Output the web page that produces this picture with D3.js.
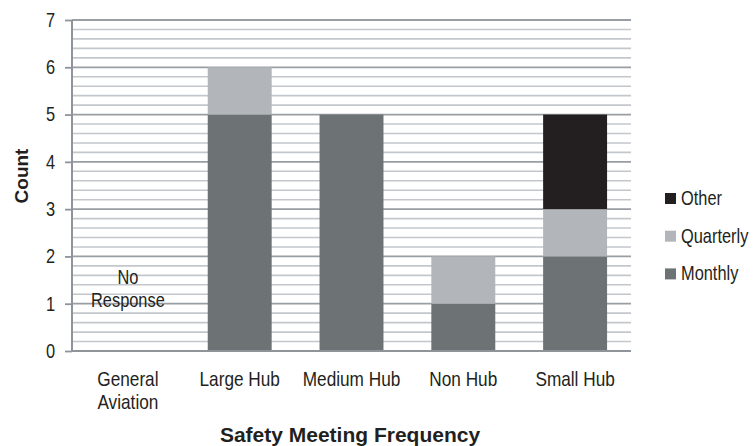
<!DOCTYPE html>
<html><head><meta charset="utf-8">
<script src="https://cdn.jsdelivr.net/npm/d3@7"></script>
<style>
body{margin:0;background:#fff;}
svg{display:block;}
text{font-family:"Liberation Sans",Arial,sans-serif;fill:#231f20;}
.bold{font-weight:bold;}
</style></head><body>
<script>
const categories = ["General Aviation","Large Hub","Medium Hub","Non Hub","Small Hub"];
const monthly   = [0,5,5,1,2];
const quarterly = [0,1,0,1,1];
const other     = [0,0,0,0,2];
const seriesNames = ["Monthly","Quarterly","Other"];
const seriesColors = ["#6d7375","#b2b5b9","#231f20"];
const yTicks = [0,1,2,3,4,5,6,7];
const xTitle = "Safety Meeting Frequency";
const yTitle = "Count";
const noResponse = ["No","Response"];

const SX=0.82; // condensed face
const W=754,H=446;
const svg=d3.select("body").append("svg").attr("width",W).attr("height",H);
const x=d3.scaleBand().domain(categories).range([72,631]).paddingInner(0.428).paddingOuter(0.214);
const y=d3.scaleLinear().domain([0,7]).range([351,20]);

function ctext(parent,px,py,str,size,anchor){
  return parent.append("text").attr("transform",`translate(${px},${py}) scale(${SX},1)`)
    .attr("font-size",size).attr("text-anchor",anchor||"start").text(str);
}

// minor gridlines
const minor=d3.range(0,7.0001,0.2).map(v=>+v.toFixed(1)).filter(v=>Math.abs(v-Math.round(v))>1e-6);
svg.append("g").selectAll("line").data(minor).join("line")
  .attr("x1",72).attr("x2",631).attr("y1",d=>y(d)).attr("y2",d=>y(d))
  .attr("stroke","#c3c7cc").attr("stroke-width",1.6);
svg.append("g").selectAll("line").data(yTicks.filter(v=>v>0)).join("line")
  .attr("x1",72).attr("x2",631).attr("y1",d=>y(d)).attr("y2",d=>y(d))
  .attr("stroke","#999ea4").attr("stroke-width",1.8);

// stacked bars
const table=categories.map((c,i)=>({cat:c,Monthly:monthly[i],Quarterly:quarterly[i],Other:other[i]}));
const stack=d3.stack().keys(seriesNames)(table);
svg.append("g").selectAll("g").data(stack).join("g").attr("fill",(d,i)=>seriesColors[i])
  .selectAll("rect").data(d=>d).join("rect")
  .attr("x",d=>x(d.data.cat)).attr("width",x.bandwidth())
  .attr("y",d=>y(d[1])).attr("height",d=>y(d[0])-y(d[1]));

// axes
const yAxis=d3.axisLeft(y).tickValues(yTicks).tickSize(7).tickPadding(11).tickFormat(d3.format("d"));
const gy=svg.append("g").attr("transform","translate(72,0)").call(yAxis);
gy.select(".domain").attr("stroke","#8f949a").attr("stroke-width",2).attr("d","M0,20V351");
gy.selectAll(".tick line").attr("stroke","#8f949a").attr("stroke-width",1.8);
gy.selectAll(".tick text").attr("font-size",20).attr("font-family",null).attr("fill","#231f20")
  .attr("transform",`translate(-17,0) scale(${SX},1)`).attr("x",0);

const xAxis=d3.axisBottom(x).tickSize(0).tickPadding(0);
const gx=svg.append("g").attr("transform","translate(0,351)").call(xAxis);
gx.select(".domain").attr("stroke","#8f949a").attr("stroke-width",2).attr("d","M72,0H631");
gx.selectAll(".tick text").attr("font-size",21).attr("font-family",null).attr("fill","#231f20")
  .text(null).attr("y",0).attr("dy",null).attr("transform",`scale(${SX},1)`)
  .each(function(d){
    const lines=(d==="General Aviation")?d.split(" "):[d];
    const t=d3.select(this);
    lines.forEach((l,i)=>t.append("tspan").attr("x",0).attr("y",35+i*23).text(l));
  });

// No Response
const cx0=x("General Aviation")+x.bandwidth()/2;
noResponse.forEach((l,i)=>ctext(svg,cx0,284+i*23,l,20,"middle"));

// titles
svg.append("text").attr("class","bold").attr("font-size",21).attr("text-anchor","middle")
  .attr("x",350).attr("y",442).text(xTitle);
svg.append("text").attr("class","bold").attr("font-size",19).attr("text-anchor","middle")
  .attr("transform","translate(28,176) rotate(-90)").text(yTitle);

// legend
const leg=svg.append("g").attr("transform","translate(665,0)");
[2,1,0].forEach((si,k)=>{
  const yy=193+k*37.7;
  leg.append("rect").attr("x",0).attr("y",yy).attr("width",11).attr("height",11).attr("fill",seriesColors[si]);
  ctext(leg,16,yy+12,seriesNames[si],20,"start");
});
</script></body></html>
